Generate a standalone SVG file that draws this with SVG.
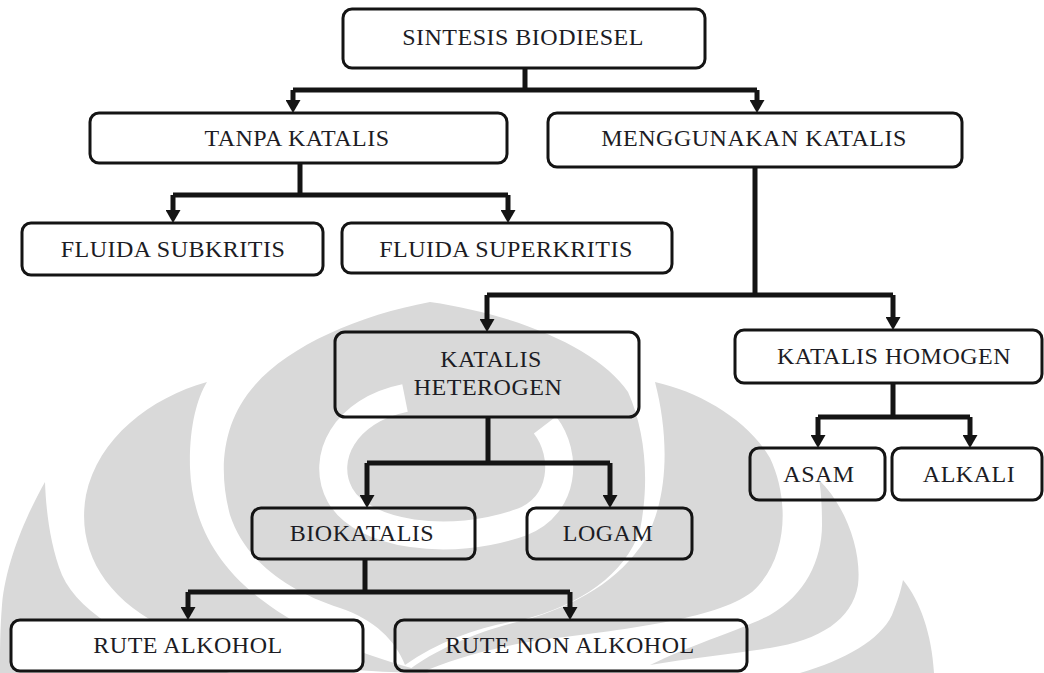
<svg xmlns="http://www.w3.org/2000/svg" width="1044" height="673" viewBox="0 0 1044 673">
  <style>
    .node rect { fill: none; stroke: #141414; stroke-width: 3; }
    .node rect.solid { fill: #ffffff; }
    .node text { font-family: "Liberation Serif", "Times New Roman", serif; font-size: 24px; fill: #1c1c24; text-anchor: middle; letter-spacing: 0.5px; }
    .wire { fill: none; stroke: #141414; stroke-width: 5; }
    .wm { fill: #d9d9d9; }
    .gap { fill: none; stroke: #ffffff; }
  </style>
  <defs>
    <marker id="head" viewBox="0 -7.5 13 15" refX="5" refY="0" markerUnits="userSpaceOnUse" markerWidth="13" markerHeight="15" orient="auto">
      <path d="M0,-7.5 L13,0 L0,7.5 Z" fill="#141414"/>
    </marker>
  </defs>

  <rect width="1044" height="673" fill="#ffffff"/>

  <!-- background emblem, light grey petals -->
  <g id="emblem">
    <path class="wm" d="M45,482 C28,512 6,560 2,605 C0,630 0,650 0,673 L230,673 C140,650 80,615 62,575 C50,545 46,510 45,482 Z"/>
    <path class="wm" d="M207,382 C150,398 98,438 86,495 C76,550 105,600 170,630 C240,660 330,672 430,673 C360,655 300,630 262,600 C215,565 192,520 190,468 C189,430 196,400 207,382 Z"/>
    <path class="wm" d="M430,302 C360,315 290,345 255,385 C222,422 218,470 230,515 C245,560 285,590 340,608 C375,620 395,640 405,665 C440,640 485,625 522,620 C580,605 625,575 640,530 C650,480 645,430 628,392 C600,350 520,315 430,302 Z"/>
    <path class="gap" stroke-width="28" d="M405,398 C345,410 320,458 340,495 C362,535 450,548 522,522 C565,505 568,455 545,425"/>
    <path class="wm" d="M655,382 C700,392 748,420 770,458 C790,500 788,560 752,592 C715,620 620,630 540,640 C490,648 450,660 420,673 L405,673 C440,645 490,628 525,620 C575,606 620,580 645,540 C668,500 670,440 655,382 Z"/>
    <path class="wm" d="M819,480 C845,505 862,550 858,585 C852,620 820,640 770,648 C730,654 690,658 650,665 C690,645 740,630 770,615 C805,595 822,560 822,525 C822,505 821,490 819,480 Z"/>
    <path class="wm" d="M903,580 C920,600 932,635 934,673 L800,673 C845,660 880,640 892,615 C898,600 901,590 903,580 Z"/>
  </g>

  <!-- connectors -->
  <g id="connectors">
    <path class="wire" d="M525,68 V90 M293,90 H757"/>
    <path class="wire" d="M293,90 V105" marker-end="url(#head)"/>
    <path class="wire" d="M757,90 V105" marker-end="url(#head)"/>

    <path class="wire" d="M300,163 V195 M173,195 H508"/>
    <path class="wire" d="M173,195 V215" marker-end="url(#head)"/>
    <path class="wire" d="M508,195 V215" marker-end="url(#head)"/>

    <path class="wire" d="M755,167 V295 M487,295 H893"/>
    <path class="wire" d="M487,295 V324" marker-end="url(#head)"/>
    <path class="wire" d="M893,295 V322" marker-end="url(#head)"/>

    <path class="wire" d="M488,417 V463 M367,463 H610"/>
    <path class="wire" d="M367,463 V500" marker-end="url(#head)"/>
    <path class="wire" d="M610,463 V500" marker-end="url(#head)"/>

    <path class="wire" d="M893,383 V417 M818,417 H970"/>
    <path class="wire" d="M818,417 V440" marker-end="url(#head)"/>
    <path class="wire" d="M970,417 V440" marker-end="url(#head)"/>

    <path class="wire" d="M365,559 V592 M188,592 H570"/>
    <path class="wire" d="M188,592 V612" marker-end="url(#head)"/>
    <path class="wire" d="M570,592 V612" marker-end="url(#head)"/>
  </g>

  <g id="sintesis-biodiesel" class="node">
    <rect x="343" y="9" width="362" height="59" rx="9"/>
    <text x="523" y="45">SINTESIS BIODIESEL</text>
  </g>
  <g id="tanpa-katalis" class="node">
    <rect x="90" y="113" width="417" height="50" rx="9"/>
    <text x="297" y="146">TANPA KATALIS</text>
  </g>
  <g id="menggunakan-katalis" class="node">
    <rect x="548" y="113" width="414" height="54" rx="9"/>
    <text x="754" y="146">MENGGUNAKAN KATALIS</text>
  </g>
  <g id="fluida-subkritis" class="node">
    <rect x="22" y="223" width="301" height="52" rx="9"/>
    <text x="173" y="257">FLUIDA SUBKRITIS</text>
  </g>
  <g id="fluida-superkritis" class="node">
    <rect x="342" y="223" width="330" height="50" rx="9"/>
    <text x="506" y="257">FLUIDA SUPERKRITIS</text>
  </g>
  <g id="katalis-heterogen" class="node">
    <rect x="335" y="332" width="304" height="85" rx="10"/>
    <text x="491" y="367">KATALIS</text>
    <text x="488" y="395">HETEROGEN</text>
  </g>
  <g id="katalis-homogen" class="node">
    <rect x="735" y="330" width="307" height="53" rx="9"/>
    <text x="894" y="364">KATALIS HOMOGEN</text>
  </g>
  <g id="asam" class="node">
    <rect x="750" y="448" width="135" height="52" rx="9"/>
    <text x="819" y="482">ASAM</text>
  </g>
  <g id="alkali" class="node">
    <rect x="892" y="448" width="150" height="52" rx="9"/>
    <text x="969" y="482">ALKALI</text>
  </g>
  <g id="biokatalis" class="node">
    <rect x="252" y="508" width="223" height="51" rx="9"/>
    <text x="362" y="541">BIOKATALIS</text>
  </g>
  <g id="logam" class="node">
    <rect x="527" y="508" width="165" height="51" rx="9"/>
    <text x="608" y="541">LOGAM</text>
  </g>
  <g id="rute-alkohol" class="node">
    <rect class="solid" x="11" y="620" width="352" height="51" rx="9"/>
    <text x="188" y="653">RUTE ALKOHOL</text>
  </g>
  <g id="rute-non-alkohol" class="node">
    <rect x="395" y="620" width="352" height="51" rx="9"/>
    <text x="570" y="653">RUTE NON ALKOHOL</text>
  </g>
</svg>
